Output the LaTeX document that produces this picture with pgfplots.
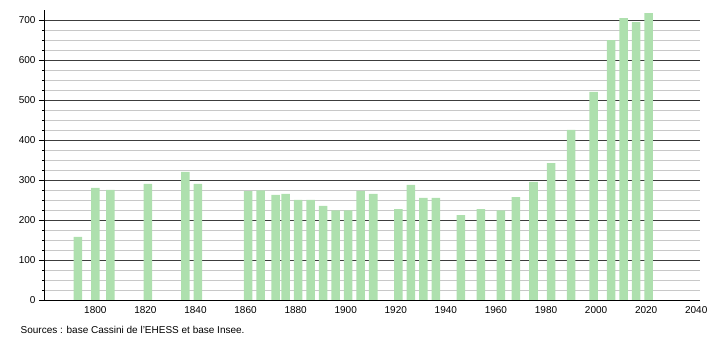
\documentclass[border=0pt]{standalone}
\usepackage{fontspec}
\setmainfont{Liberation Sans}
\usepackage{pgfplots}
\pgfplotsset{compat=1.18}
\definecolor{bargreen}{RGB}{174,224,174}
\definecolor{majgrid}{RGB}{60,60,60}
\definecolor{mingrid}{RGB}{200,200,200}
\begin{document}
\begin{tikzpicture}
\begin{axis}[
  name=ax,
  scale only axis,
  width=656pt, height=290pt,
  xmin=1779.5, xmax=2041.5,
  ymin=0, ymax=725,
  axis x line=bottom, axis y line=left,
  axis line style={-, black, line width=0.8pt},
  xtick={1800,1820,...,2040},
  ytick={0,100,...,700},
  minor y tick num=3,
  ymajorgrids, yminorgrids,
  major grid style={majgrid, line width=0.7pt},
  minor grid style={mingrid, line width=0.7pt},
  x tick style={draw=none},
  y tick style={black, line width=0.6pt},
  major tick length=5pt, minor tick length=2pt,
  tick align=outside,
  /pgf/number format/1000 sep={},
  /pgf/number format/assume math mode=true,
  tick label style={font=\fontsize{10}{12}\selectfont},
  xticklabel style={yshift=2pt},
  clip=false,
]
\addplot[ybar, bar width=3.4, fill=bargreen, draw=none] coordinates {
(1793,158) (1800,280) (1806,275) (1821,290) (1836,320) (1841,290)
(1861,272) (1866,274) (1872,263) (1876,265) (1881,250) (1886,250)
(1891,235) (1896,224) (1901,224) (1906,273) (1911,265)
(1921,227) (1926,288) (1931,255) (1936,255) (1946,212)
(1954,227) (1962,224) (1968,257) (1975,295) (1982,342) (1990,425)
(1999,520) (2006,650) (2011,705) (2016,695) (2021,717)
};
\end{axis}
\node[anchor=west, font=\fontsize{10}{12}\selectfont, inner sep=0pt] at ([xshift=-23.5pt,yshift=-30pt]ax.south west) {Sources : base Cassini de l'EHESS et base Insee.};
\pgfresetboundingbox
\path ([xshift=-44pt,yshift=-40pt]ax.south west) rectangle ++(710pt,340pt);
\end{tikzpicture}
\end{document}
